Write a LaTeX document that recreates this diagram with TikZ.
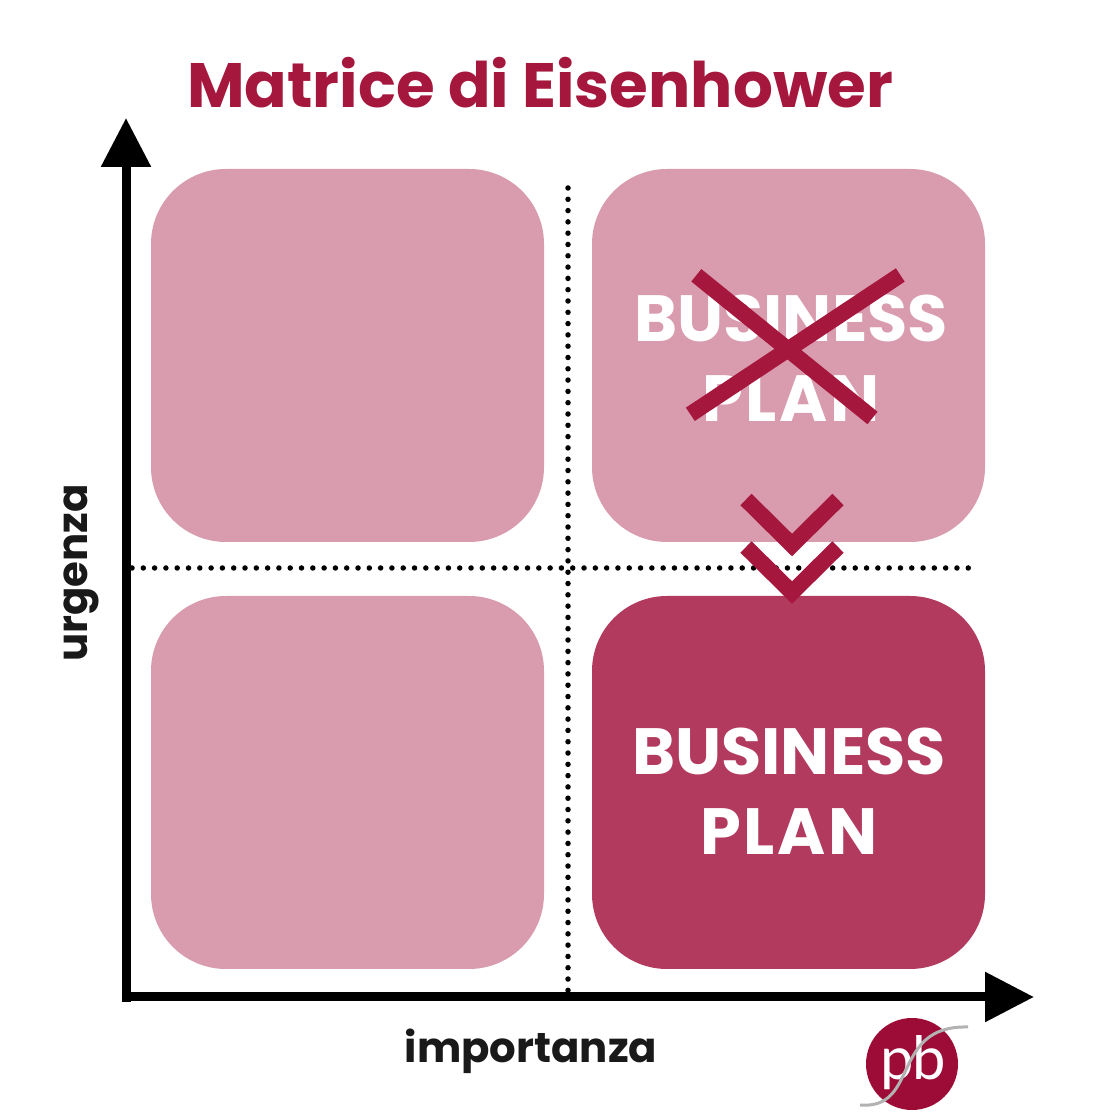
\documentclass[tikz,border=0pt]{standalone}
\usepackage{fontspec}
\setmainfont{Poppins}
\newfontfamily\logofont{Lato}
\usetikzlibrary{arrows.meta}
\definecolor{crimson}{HTML}{A6173D}
\definecolor{lightrose}{HTML}{D99BAE}
\definecolor{darkrose}{HTML}{B23A5F}
\definecolor{logored}{HTML}{9C0C36}
\newcommand{\planword}{{\addfontfeature{LetterSpace=4}PLAN}}
\tikzset{
    quadrant/.style={rectangle, fill=lightrose, minimum width=3.93cm, minimum height=3.73cm, rounded corners=0.75cm, inner sep=0pt},
    planlabel/.style={text=white, align=center, font=\fontsize{18.6}{22.8}\selectfont\bfseries},
    axislabel/.style={text=black!90, font=\fontsize{11.9}{14}\selectfont\bfseries},
    axisline/.style={line width=0.09cm, -{Triangle[length=0.49cm,width=0.48cm]}},
    guide/.style={line width=0.055cm, line cap=round, dash pattern=on 0pt off 0.113cm},
    strike/.style={crimson, line width=0.16cm},
}
\begin{document}
\begin{tikzpicture}
    \useasboundingbox (0,0) rectangle (11.2,11.2);
    \fill[white] (0,0) rectangle (11.2,11.2);
    % Title
    \node[text=crimson, font=\fontsize{17.85}{20}\selectfont\bfseries] (title) at (5.4,10.37) {Matrice di Eisenhower};
    % quadrants
    \node[quadrant] (urgentless) at (3.475,7.645) {};
    \node[quadrant] (urgentmore) at (7.885,7.645) {};
    \node[quadrant] (lowleft) at (3.475,3.375) {};
    \node[quadrant, fill=darkrose] (lowright) at (7.885,3.375) {};
    % guides
    \coordinate (guidetop) at (5.68,9.32);
    \coordinate (guidebottom) at (5.68,1.28);
    \coordinate (guideleft) at (1.32,5.52);
    \coordinate (guideright) at (9.7,5.52);
    \draw[guide] (guidetop) -- (guidebottom);
    \draw[guide] (guideleft) -- (guideright);
    % axes
    \coordinate (ytip) at (1.26,10.02);
    \coordinate (xtip) at (10.34,1.23);
    \draw[axisline] (1.26,1.18) -- (ytip);
    \draw[axisline] (1.215,1.23) -- (xtip);
    \node[axislabel] (xlabel) at (5.31,0.685) {importanza};
    \node[axislabel, rotate=90] (ylabel) at (0.81,5.47) {urgenza};
    % text
    \node[planlabel] (oldplan) at (7.91,7.62) {BUSINESS\\\planword};
    \node[planlabel] (newplan) at (7.89,3.29) {BUSINESS\\\planword};
    % cross
    \draw[strike] (6.963,8.447) -- (8.725,7.02);
    \draw[strike] (9.003,8.45) -- (6.903,7.057);
    % chevrons
    \foreach \y in {5.75,5.275}
        \draw[strike] (7.46,\y+0.455) -- (7.92,\y) -- (8.38,\y+0.455);
    % logo
    \node[circle, fill=logored, minimum size=0.92cm, inner sep=0pt] (logo) at (9.12,0.56) {};
    \node[text=white, font=\logofont\fontsize{17}{20}\selectfont, inner sep=0pt] (logotext) at (9.13,0.57) {p\kern-0.5pt b};
    \draw[black!30, line width=0.03cm] (8.6,0.15) .. controls (9.2,0.1) and (8.9,0.95) .. (9.68,0.93);
\end{tikzpicture}
\end{document}
